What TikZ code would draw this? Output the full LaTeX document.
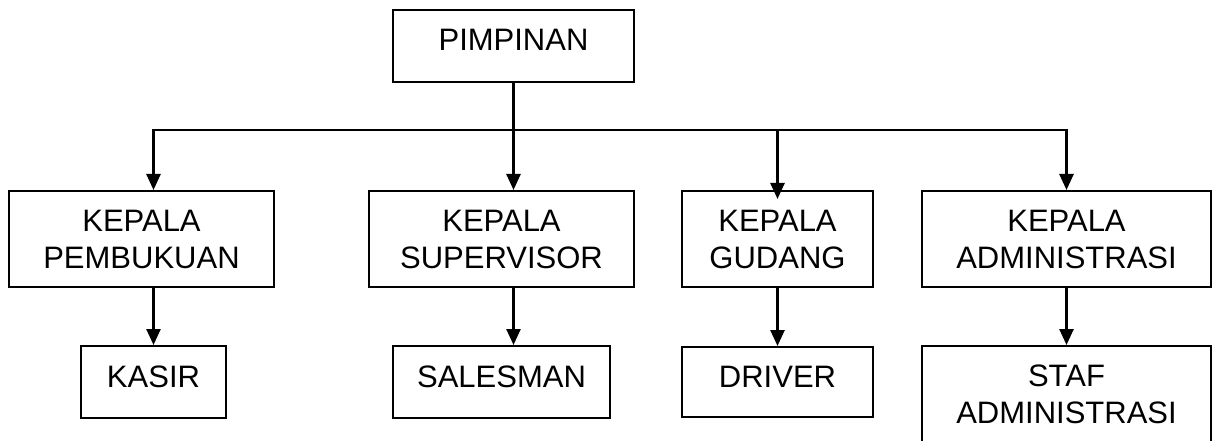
\documentclass[tikz,border=0pt]{standalone}
\usepackage{fontspec}
\setmainfont{Liberation Sans}
\usetikzlibrary{arrows.meta}

\begin{document}
\begin{tikzpicture}[x=1pt,y=-1pt,>={Triangle[width=14pt,length=16pt]},line width=2.5pt,
                box/.style={shape=rectangle,draw=black,line width=2pt,inner sep=0pt,align=center,font=\fontsize{31}{37}\selectfont},
                onebox/.style={box,text height=22pt,text depth=12pt}]
                \useasboundingbox (0,0) rectangle (1219,441);
                \node[onebox,minimum width=241pt,minimum height=72pt](pimpinan)at(513.5, 46){PIMPINAN};
                \node[box,minimum width=265pt,minimum height=96pt](pembukuan)at(141.5, 239){KEPALA\\PEMBUKUAN};
                \node[box,minimum width=265pt,minimum height=96pt](supervisor)at(501.5, 239){KEPALA\\SUPERVISOR};
                \node[box,minimum width=191pt,minimum height=96pt](gudang)at(777.5, 239){KEPALA\\GUDANG};
                \node[box,minimum width=289pt,minimum height=96pt](admin)at(1066.5, 239){KEPALA\\ADMINISTRASI};
                \node[onebox,minimum width=145pt,minimum height=72pt](kasir)at(153.5, 382){KASIR};
                \node[onebox,minimum width=217pt,minimum height=72pt](salesman)at(501.5, 382){SALESMAN};
                \node[onebox,minimum width=191pt,minimum height=70pt](driver)at(777.5, 382){DRIVER};
                \node[box,minimum width=289pt,minimum height=96pt](staf)at(1066.5, 394){STAF\\ADMINISTRASI};
                \coordinate (branch) at (0, 130);
                \draw (pimpinan.south) -- (pimpinan.south |- branch);
                \draw[<->] (kasir.north |- pembukuan.north) -- (kasir.north |- branch)
                -- (admin.north |- branch) -- (admin.north);
                \draw[->] (pimpinan.south |- branch) -- (pimpinan.south |- supervisor.north);
                \draw[->] (gudang.north |- branch) -- ([yshift=-9pt]gudang.north);
                \draw[->] (kasir.north |- pembukuan.south) -- (kasir.north);
                \draw[->] (pimpinan.south |- supervisor.south) -- (pimpinan.south |- salesman.north);
                \draw[->] (gudang.south) -- (driver.north);
                \draw[->] (admin.south) -- (staf.north);
            \end{tikzpicture}
\end{document}
